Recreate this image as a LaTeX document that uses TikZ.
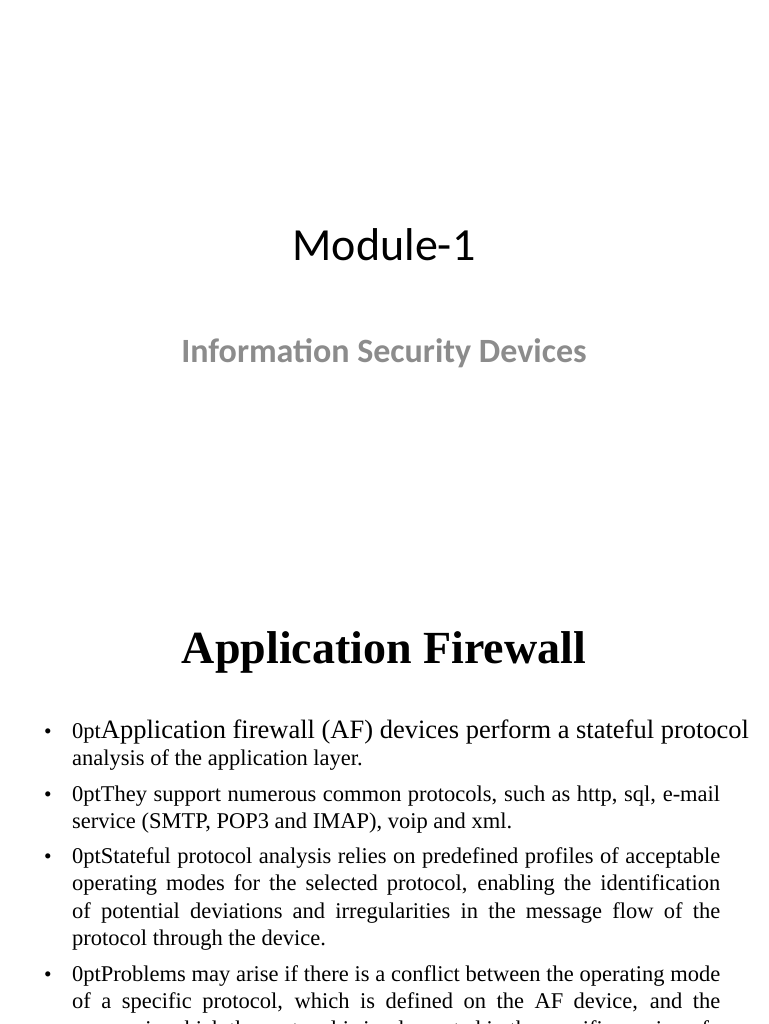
\documentclass[tikz,border=0pt]{standalone}
\usepackage{fontspec}
\setmainfont{Liberation Serif}
\newfontfamily\calfont{Carlito}
\begin{document}
\begin{tikzpicture}[x=1pt,y=-1pt,
  para/.style={anchor=base west,text width=648pt,align=justify,inner sep=0pt,font=\fontsize{22.5}{27.5}\selectfont\spaceskip=0.2em plus 1em minus 0.1em},
  bul/.style={anchor=base west,inner sep=0pt,font=\fontsize{21.5}{27.5}\selectfont}]
\clip (0,0) rectangle (768,1024);
\fill[white] (0,0) rectangle (768,1024);
\node[font=\calfont\fontsize{46}{52}\selectfont] (t) at (384,245) {Module-1};
\node[font=\calfont\bfseries\fontsize{34}{40}\selectfont,text=black!45] (s) at (384,353) {Information Security Devices};
\node[font=\bfseries\fontsize{46}{52}\selectfont] (h) at (384,652) {Application Firewall};
\foreach \y/\n in {738/a,801/b,863/c,981/d}{\node[bul] (b\n) at (44,\y) {\textbullet};}
\node[para] (p1) at (72,738) {\resizebox{648pt}{!}{Application firewall (AF) devices perform a stateful protocol}\\ analysis of the application layer.};
\node[para] (p2) at (72,801) {They support numerous common protocols, such as http, sql, e-mail\linebreak service (SMTP, POP3 and IMAP), voip and xml.};
\node[para] (p3) at (72,863) {Stateful protocol analysis relies on predefined profiles of acceptable\linebreak operating modes for the selected protocol, enabling the identification\linebreak of potential deviations and irregularities in the message flow of the\linebreak protocol through the device.};
\node[para] (p4) at (72,981) {Problems may arise if there is a conflict between the operating mode\linebreak of a specific protocol, which is defined on the AF device, and the\linebreak manner in which the protocol is implemented in the specific version of};
\end{tikzpicture}
\end{document}
